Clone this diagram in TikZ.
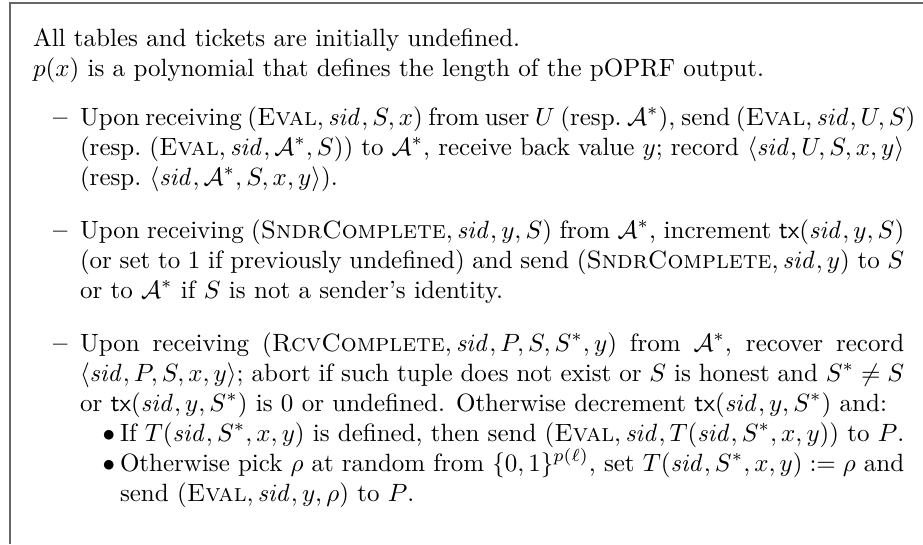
\documentclass[tikz,border=0pt]{standalone}
\usepackage{amsmath,amssymb}
\newcommand{\sidm}{\mathit{sid}}
\newcommand{\Astar}{\mathcal{A}^*}
\newcommand{\txm}{\mathsf{tx}}
\newcommand{\dotitem}{\noindent\llap{$\bullet$\hspace{2pt}}}
\newenvironment{dashlist}{\begin{list}{\normalfont\bfseries --}{%
  \setlength\leftmargin{18.8pt}\setlength\labelsep{5pt}\setlength\labelwidth{13.8pt}%
  \setlength\itemindent{0pt}\setlength\listparindent{0pt}%
  \setlength\topsep{7.6pt}\setlength\partopsep{0pt}%
  \setlength\itemsep{9.2pt}\setlength\parsep{0pt}}}{\end{list}}
\begin{document}
\begin{tikzpicture}[x=1pt,y=1pt]
\tikzset{
  framerule/.style={draw=black!60, line width=0.7pt},
  bodytext/.style={anchor=base west, inner sep=0pt, outer sep=0pt}
}
\useasboundingbox (0,0) rectangle (369.2,-217.6);
\coordinate (fbl) at (4,-217.6);
\coordinate (ftl) at (4,-1.2);
\coordinate (ftr) at (369.2,-1.2);
\draw[framerule] (fbl) -- (ftl) -- (ftr);
\node[bodytext] (body) at (13.2,-18.4) {%
\begin{minipage}[t]{348.5pt}
All tables and tickets are initially undefined.\par
$p(x)$ is a polynomial that defines the length of the pOPRF output.
\begin{dashlist}
\item \leavevmode\hbox to \linewidth{Upon receiving $(\textsc{Eval}, \sidm, S, x)$ from user $U$ (resp.\ $\Astar$), send $(\textsc{Eval}, \sidm, U, S)$} (resp.\ $(\textsc{Eval}, \sidm, \Astar, S)$) to $\Astar$, receive back value $y$; record $\langle \sidm, U, S, x, y\rangle$ (resp.\ $\langle \sidm, \Astar, S, x, y\rangle$).
\item Upon receiving $(\textsc{SndrComplete}, \sidm, y, S)$ from $\Astar$, increment $\txm(\sidm, y, S)$ (or set to 1 if previously undefined) and send $(\textsc{SndrComplete}, \sidm, y)$ to $S$ or to $\Astar$ if $S$ is not a sender's identity.
\item Upon receiving $(\textsc{RcvComplete}, \sidm, P, S, S^*, y)$ from $\Astar$, recover record $\langle \sidm, P, S, x, y\rangle$; abort if such tuple does not exist or $S$ is honest and $S^* \neq S$ or $\txm(\sidm, y, S^*)$ is 0 or undefined. Otherwise decrement $\txm(\sidm, y, S^*)$ and:\par
{\leftskip=16pt
\dotitem If $T(\sidm, S^*, x, y)$ is defined, then send $(\textsc{Eval}, \sidm, T(\sidm, S^*, x, y))$ to $P$.\par
\dotitem Otherwise pick $\rho$ at random from $\{0,1\}^{p(\ell)}$, set $T(\sidm, S^*, x, y) := \rho$ and send $(\textsc{Eval}, \sidm, y, \rho)$ to $P$.\par}
\end{dashlist}
\end{minipage}};
\end{tikzpicture}
\end{document}
